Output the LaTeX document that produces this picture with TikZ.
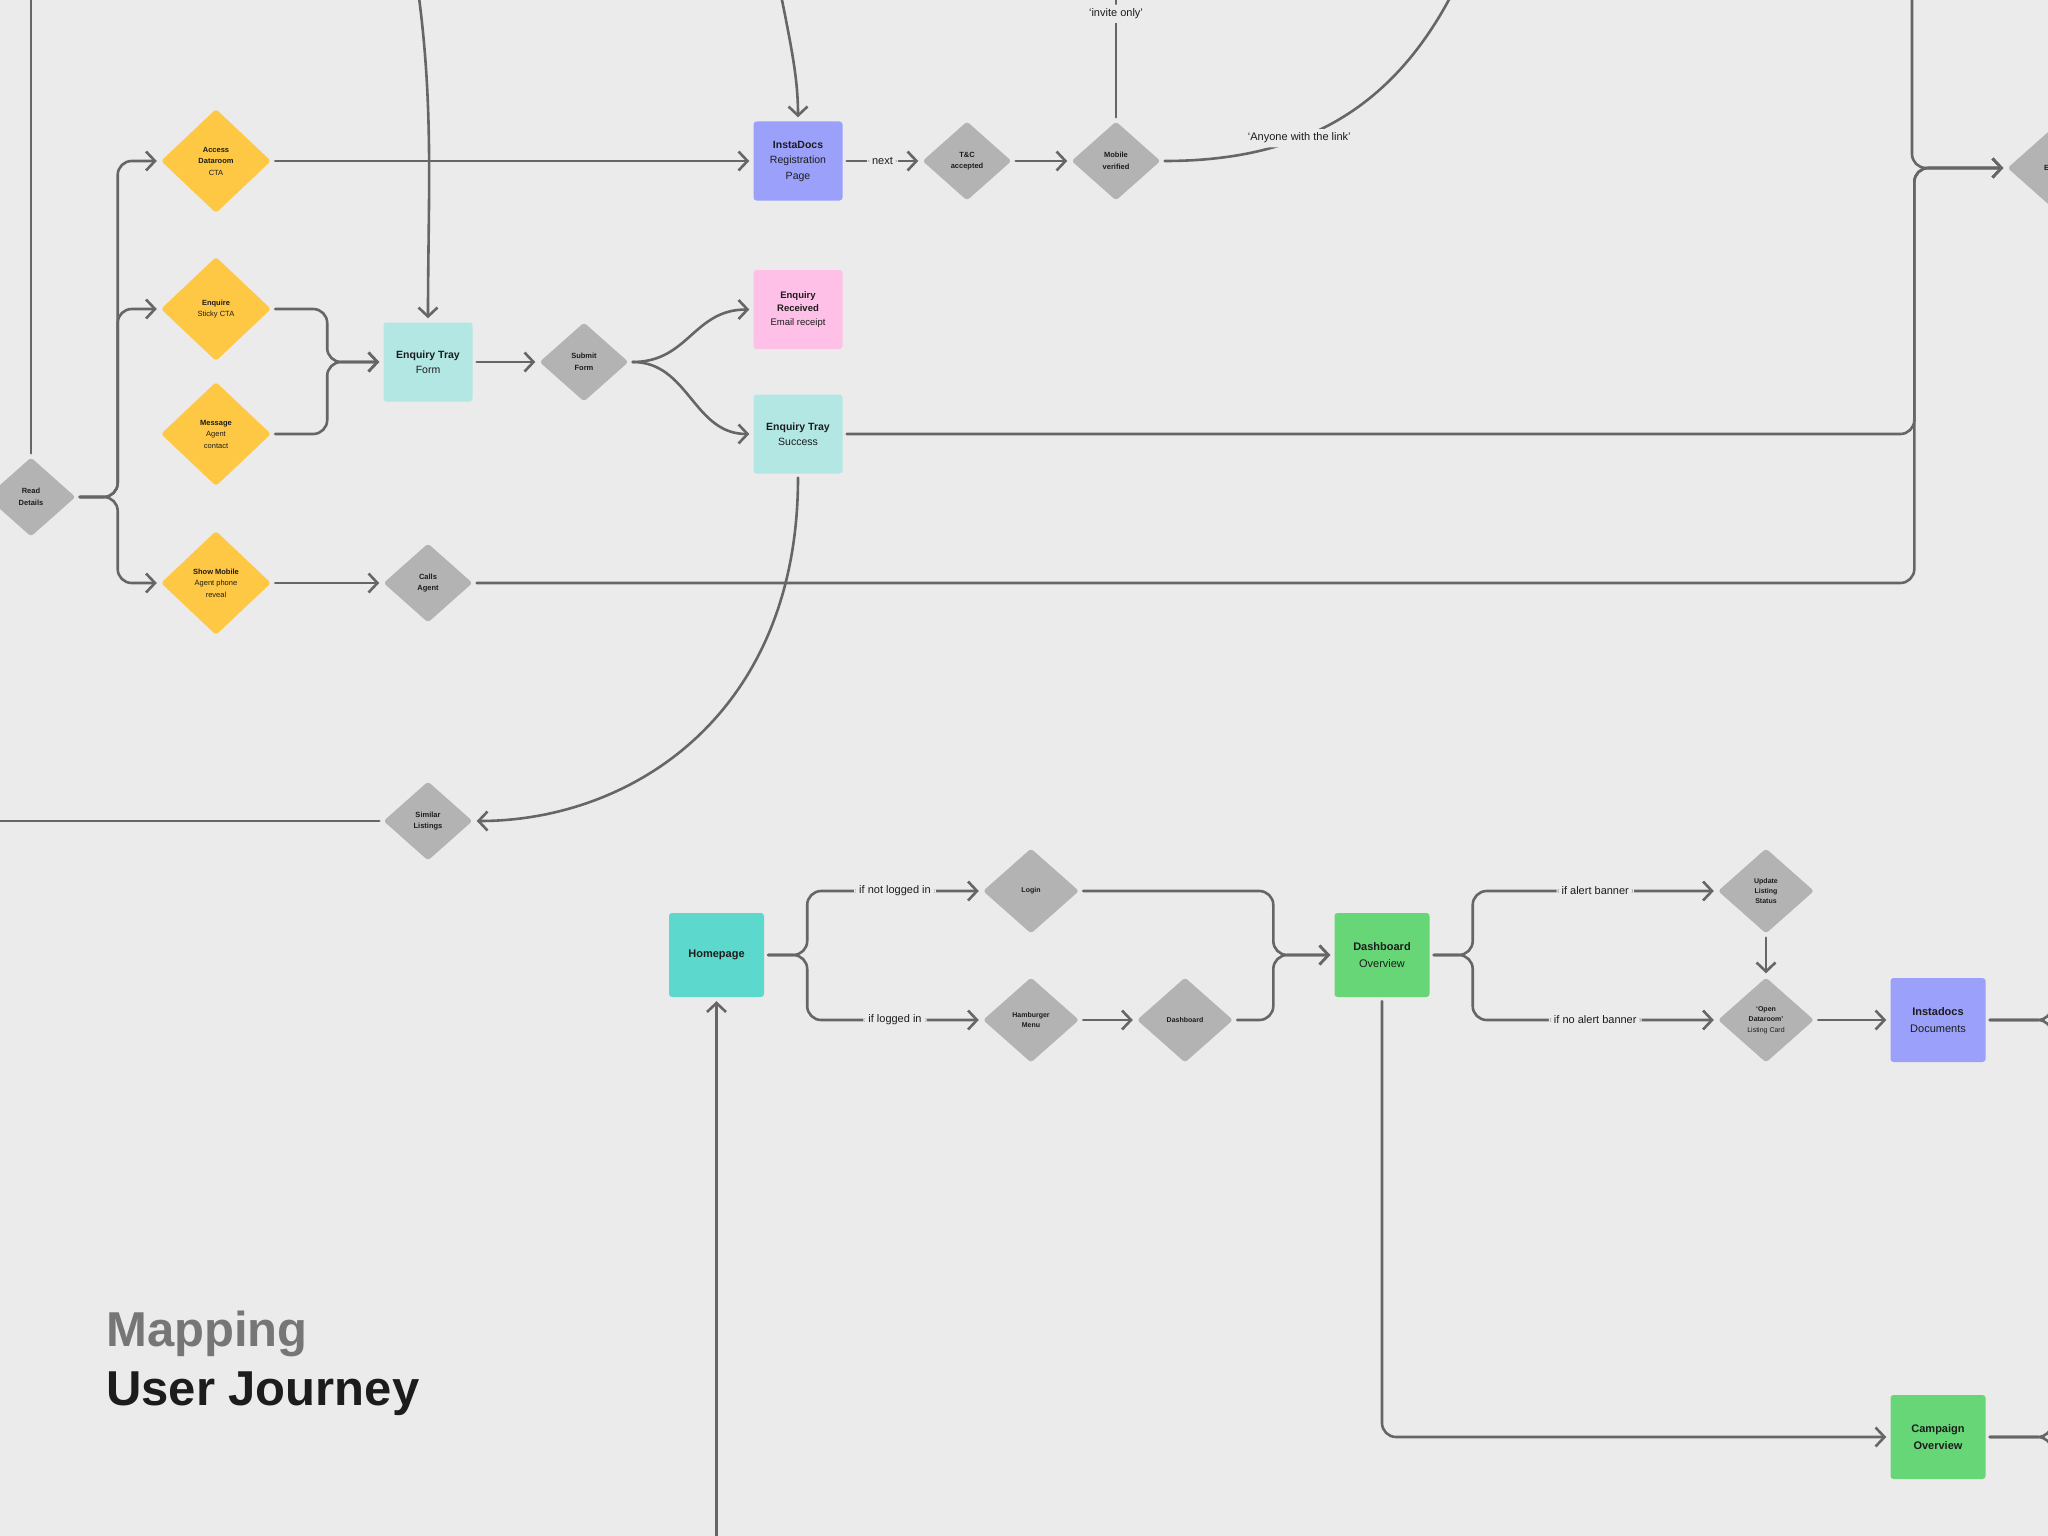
\documentclass[tikz,border=0pt]{standalone}
\usepackage{fontspec}
\setmainfont{Liberation Sans}
\setsansfont{Liberation Sans}
\usetikzlibrary{shapes.geometric,arrows.meta}
\definecolor{bg}{HTML}{EBEBEB}
\definecolor{linec}{HTML}{666666}
\definecolor{ylw}{HTML}{FEC844}
\definecolor{gry}{HTML}{B3B3B3}
\definecolor{lav}{HTML}{9BA0FA}
\definecolor{pnk}{HTML}{FEC0E7}
\definecolor{mint}{HTML}{B3E7E3}
\definecolor{tealc}{HTML}{5CD9CC}
\definecolor{grn}{HTML}{66D677}
\definecolor{ink}{HTML}{1C1C1C}
\definecolor{titlegray}{HTML}{767676}
\newcommand{\dtxt}{\fontsize{7.5}{11.5}\selectfont}
\newcommand{\btxt}{\fontsize{10.5}{15.5}\selectfont}
\begin{document}
\begin{tikzpicture}[x=1pt, y=-1pt, >={Straight Barb[length=9pt,width=19pt]},
      ydia/.style={diamond, fill=ylw, minimum width=110pt, minimum height=104pt, inner sep=0pt, rounded corners=3pt, align=center, text=ink, font=\dtxt},
      gdia/.style={diamond, fill=gry, minimum width=89pt, minimum height=79pt, inner sep=0pt, rounded corners=3pt, align=center, text=ink, font=\dtxt},
      gdib/.style={gdia, minimum width=96pt, minimum height=85pt, font=\fontsize{7}{10.3}\selectfont},
      card/.style={rectangle, fill=#1, minimum width=89pt, minimum height=79pt, rounded corners=3pt, align=center, text=ink, font=\btxt},
      bcard/.style={card=#1, minimum width=95pt, minimum height=84pt, font=\fontsize{11}{16.5}\selectfont},
      link/.style={draw=linec, line width=2.6pt, line cap=round, rounded corners=14pt, shorten <=4pt, shorten >=4pt},
      lbl/.style={fill=bg, inner xsep=5pt, inner ysep=4pt, text=ink, font=\fontsize{11}{13}\selectfont}]
    \useasboundingbox (0,0) rectangle (2048,1536);
    \clip (0,0) rectangle (2048,1536);
    \fill[bg] (0,0) rectangle (2048,1536);
    % listing page
    \node[gdia] (rd) at (31,497) {\textbf{Read}\\\textbf{Details}};
    \node[ydia] (ad) at (216,161) {\textbf{Access}\\\textbf{Dataroom}\\CTA};
    \node[ydia] (enq) at (216,309) {\textbf{Enquire}\\Sticky CTA};
    \node[ydia] (msg) at (216,434) {\textbf{Message}\\Agent\\contact};
    \node[ydia] (smb) at (216,583) {\textbf{Show Mobile}\\Agent phone\\reveal};
    \node[gdia] (ca) at (428,583) {\textbf{Calls}\\\textbf{Agent}};
    \node[card=mint] (etf) at (428,362) {\textbf{Enquiry Tray}\\Form};
    \node[gdia] (sf) at (584,362) {\textbf{Submit}\\\textbf{Form}};
    \node[card=pnk, font=\fontsize{9.5}{13.5}\selectfont] (er) at (798,309.5) {\textbf{Enquiry}\\\textbf{Received}\\Email receipt};
    \node[card=mint] (ets) at (798,434) {\textbf{Enquiry Tray}\\Success};
    \node[card=lav] (idr) at (798,161) {\textbf{InstaDocs}\\Registration\\Page};
    \node[gdia] (tc) at (967,161) {\textbf{T\&C}\\\textbf{accepted}};
    \node[gdia] (mv) at (1116,161) {\textbf{Mobile}\\\textbf{verified}};
    \node[gdia] (sl) at (428,821) {\textbf{Similar}\\\textbf{Listings}};
    \node[gdia, text width=16pt, align=left] (edg) at (2052,168) {\textbf{E}};
    \coordinate (ltop) at (31,-10);
    \coordinate (ftop) at (418,-10);
    \coordinate (itop) at (780,-10);
    \coordinate (mtop) at (1116,-10);
    \coordinate (atop) at (1452,-6);
    \coordinate (rtop) at (1912,-10);
    \coordinate (lleft) at (-10,821);
    \draw[link] (ltop) -- (rd.north);
    \draw[link,->] (rd.east) -- ++(42,0) |- (ad.west);
    \draw[link,->] (rd.east) -- ++(42,0) |- (enq.west);
    \draw[link,->] (rd.east) -- ++(42,0) |- (smb.west);
    \draw[link,->] (ad.east) -- (idr.west);
    \draw[link,->] (enq.east) -- ++(56,0) |- (etf.west);
    \draw[link,->] (msg.east) -- ++(56,0) |- (etf.west);
    \draw[link,->] (ftop) .. controls (434,110) and (428,200) .. (etf.north);
    \draw[link,->] (itop) .. controls (792,50) and (798,80) .. (idr.north);
    \draw[link,->] (idr.east) -- node[lbl]{next} (tc.west);
    \draw[link,->] (tc.east) -- (mv.west);
    \draw[link] (mv.north) -- node[lbl,pos=.82]{‘invite only’} (mtop);
    \draw[link] (mv.east) .. controls (1300,161) and (1390,110) .. node[lbl,pos=.38]{‘Anyone with the link’} (atop);
    \draw[link,->] (etf.east) -- (sf.west);
    \draw[link,->] (sf.east) .. controls +(60,0) and +(-60,0) .. (er.west);
    \draw[link,->] (sf.east) .. controls +(60,0) and +(-60,0) .. (ets.west);
    \draw[link,->] (smb.east) -- (ca.west);
    \draw[link,->] (ets.east) -| ([xshift=-93pt]edg.west) -- (edg.west);
    \draw[link,->] (ca.east) -| ([xshift=-93pt]edg.west) -- (edg.west);
    \draw[link,->] (rtop) |- (edg.west);
    \draw[link,->] (ets.south) .. controls +(0,240) and +(160,0) .. (sl.east);
    \draw[link] (sl.west) -- (lleft);
    % dashboard
    \node[bcard=tealc] (hp) at (716.5,955) {\textbf{Homepage}};
    \node[gdib] (login) at (1031,891) {\textbf{Login}};
    \node[gdib] (hm) at (1031,1020) {\textbf{Hamburger}\\\textbf{Menu}};
    \node[gdib] (dbd) at (1185,1020) {\textbf{Dashboard}};
    \node[bcard=grn] (dov) at (1382,955) {\textbf{Dashboard}\\Overview};
    \node[gdib] (uls) at (1766,891) {\textbf{Update}\\\textbf{Listing}\\\textbf{Status}};
    \node[gdib] (odr) at (1766,1020) {\textbf{‘Open}\\\textbf{Dataroom’}\\Listing Card};
    \node[bcard=lav] (idd) at (1938,1020) {\textbf{Instadocs}\\Documents};
    \node[bcard=grn] (cov) at (1938,1437) {\textbf{Campaign}\\\textbf{Overview}};
    \coordinate (hbot) at (716.5,1546);
    \coordinate (idup) at (2120,960);
    \coordinate (iddn) at (2120,1080);
    \coordinate (coup) at (2120,1377);
    \coordinate (codn) at (2120,1497);
    \draw[link,->] (hp.east) -- ++(43,0) |- node[lbl,pos=.75]{if not logged in} (login.west);
    \draw[link,->] (hp.east) -- ++(43,0) |- node[lbl,pos=.75]{if logged in} (hm.west);
    \draw[link,->] (hm.east) -- (dbd.west);
    \draw[link,->] (login.east) -| ([xshift=-61pt]dov.west) -- (dov.west);
    \draw[link,->] (dbd.east) -| ([xshift=-61pt]dov.west) -- (dov.west);
    \draw[link,->] (dov.east) -- ++(43,0) |- node[lbl,pos=.75]{if alert banner} (uls.west);
    \draw[link,->] (dov.east) -- ++(43,0) |- node[lbl,pos=.75]{if no alert banner} (odr.west);
    \draw[link,->] (uls.south) -- (odr.north);
    \draw[link,->] (odr.east) -- (idd.west);
    \draw[link] (idd.east) -- (2052,1020) |- (idup);
    \draw[link] (idd.east) -- (2052,1020) |- (iddn);
    \draw[link,->] (dov.south) |- (cov.west);
    \draw[link] (cov.east) -- (2052,1437) |- (coup);
    \draw[link] (cov.east) -- (2052,1437) |- (codn);
    \draw[link,->] (hbot) -- (hp.south);
    \node[anchor=base west, inner sep=0pt, text=titlegray, font=\fontsize{49}{55}\selectfont\bfseries] (ttl1) at (106,1346) {Mapping};
    \node[anchor=base west, inner sep=0pt, text=ink, font=\fontsize{49}{55}\selectfont\bfseries] (ttl2) at (106,1405) {User Journey};
  \end{tikzpicture}
\end{document}
